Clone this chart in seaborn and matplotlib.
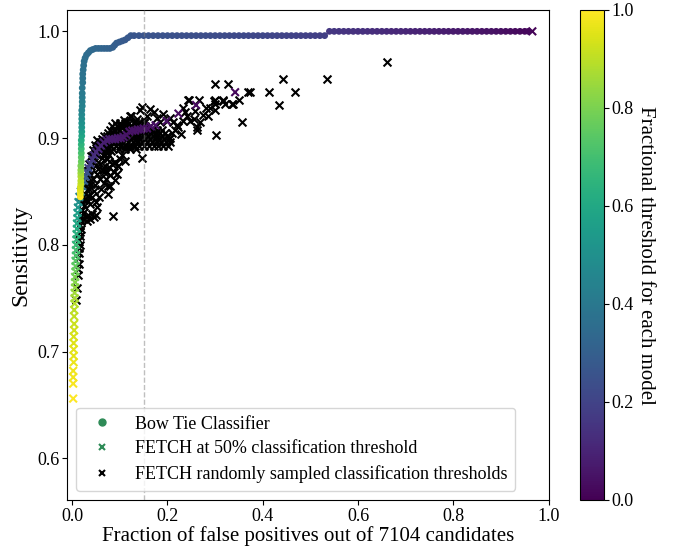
import matplotlib
matplotlib.use("Agg")
import numpy as np
import pandas as pd
import matplotlib.pyplot as plt
from matplotlib.lines import Line2D
from matplotlib.cm import ScalarMappable
from matplotlib.colors import Normalize
import seaborn as sns

# ---- Bow Tie classifier: rising part of the curve ----
bt_rise_fpr = [0.017, 0.017, 0.017, 0.017, 0.018, 0.018, 0.018, 0.018, 0.018, 0.018,
               0.019, 0.019, 0.019, 0.019, 0.019, 0.019, 0.020, 0.020, 0.020, 0.020,
               0.020, 0.020, 0.020, 0.021, 0.021, 0.021, 0.021, 0.021, 0.022, 0.022,
               0.022, 0.023, 0.024, 0.025, 0.027, 0.030, 0.034, 0.038, 0.043, 0.049,
               0.055, 0.061, 0.067, 0.073, 0.079, 0.085, 0.089, 0.093, 0.099, 0.105,
               0.111, 0.117, 0.123]
bt_rise_sens = [0.845, 0.848, 0.851, 0.854, 0.857, 0.860, 0.864, 0.867, 0.870, 0.874,
                0.878, 0.882, 0.886, 0.890, 0.894, 0.898, 0.902, 0.906, 0.910, 0.914,
                0.918, 0.922, 0.926, 0.930, 0.934, 0.938, 0.942, 0.947, 0.952, 0.956,
                0.960, 0.964, 0.968, 0.972, 0.975, 0.978, 0.980, 0.982, 0.983, 0.984,
                0.984, 0.984, 0.984, 0.984, 0.984, 0.985, 0.987, 0.989, 0.990, 0.991,
                0.992, 0.994, 0.996]
bt_rise_thr = [1.00, 0.98, 0.96, 0.94, 0.92, 0.90, 0.88, 0.86, 0.83, 0.80,
               0.77, 0.74, 0.71, 0.68, 0.65, 0.62, 0.59, 0.56, 0.53, 0.51,
               0.49, 0.47, 0.45, 0.44, 0.43, 0.42, 0.41, 0.40, 0.39, 0.385,
               0.38, 0.375, 0.37, 0.365, 0.36, 0.355, 0.35, 0.345, 0.34, 0.335,
               0.33, 0.325, 0.32, 0.315, 0.31, 0.305, 0.30, 0.295, 0.29, 0.285,
               0.28, 0.275, 0.27]

# ---- Bow Tie classifier: flat parts ----
bt_flat1_fpr = [0.13, 0.14, 0.15, 0.16, 0.17, 0.18, 0.19, 0.20, 0.21, 0.22,
                0.23, 0.24, 0.25, 0.26, 0.27, 0.28, 0.29, 0.30, 0.31, 0.32,
                0.33, 0.34, 0.35, 0.36, 0.37, 0.38, 0.39, 0.40, 0.41, 0.42,
                0.43, 0.44, 0.45, 0.46, 0.47, 0.48, 0.49, 0.50, 0.51, 0.52, 0.53]
bt_flat1_thr = [0.265, 0.263, 0.261, 0.259, 0.257, 0.255, 0.253, 0.251, 0.249, 0.247,
                0.245, 0.243, 0.241, 0.239, 0.237, 0.235, 0.233, 0.231, 0.229, 0.227,
                0.225, 0.223, 0.221, 0.219, 0.217, 0.215, 0.213, 0.211, 0.209, 0.207,
                0.205, 0.203, 0.201, 0.199, 0.197, 0.195, 0.193, 0.191, 0.189, 0.187, 0.185]
bt_flat1_sens = [0.996] * len(bt_flat1_fpr)

bt_flat2_fpr = [0.54, 0.55, 0.56, 0.57, 0.58, 0.59, 0.60, 0.61, 0.62, 0.63,
                0.64, 0.65, 0.66, 0.67, 0.68, 0.69, 0.70, 0.71, 0.72, 0.73,
                0.74, 0.75, 0.76, 0.77, 0.78, 0.79, 0.80, 0.81, 0.82, 0.83,
                0.84, 0.85, 0.86, 0.87, 0.88, 0.89, 0.90, 0.91, 0.92, 0.93,
                0.94, 0.95, 0.958]
bt_flat2_thr = [0.160, 0.157, 0.153, 0.150, 0.147, 0.143, 0.140, 0.137, 0.133, 0.130,
                0.127, 0.123, 0.120, 0.117, 0.113, 0.110, 0.107, 0.103, 0.100, 0.097,
                0.093, 0.090, 0.087, 0.083, 0.080, 0.077, 0.073, 0.070, 0.067, 0.063,
                0.060, 0.057, 0.053, 0.050, 0.047, 0.043, 0.040, 0.037, 0.033, 0.030,
                0.027, 0.023, 0.020]
bt_flat2_sens = [1.0] * len(bt_flat2_fpr)

# ---- FETCH at 50% threshold (coloured crosses) ----
f50_fpr = [0.002, 0.002, 0.002, 0.002, 0.003, 0.003, 0.003, 0.003, 0.003, 0.004,
           0.004, 0.004, 0.004, 0.005, 0.005, 0.005, 0.006, 0.006, 0.006, 0.007,
           0.007, 0.007, 0.008, 0.008, 0.008, 0.009, 0.009, 0.010, 0.010, 0.011,
           0.011, 0.012, 0.013,
           0.015, 0.018, 0.021, 0.025, 0.028, 0.031, 0.034, 0.038, 0.042, 0.046,
           0.050, 0.055, 0.060, 0.066, 0.072, 0.078, 0.084, 0.090, 0.096, 0.102,
           0.108, 0.114, 0.120, 0.126, 0.132, 0.138, 0.144, 0.150, 0.157, 0.165,
           0.175, 0.198, 0.223, 0.260, 0.342, 0.966]
f50_sens = [0.656, 0.670, 0.676, 0.682, 0.690, 0.696, 0.702, 0.708, 0.714, 0.720,
            0.726, 0.733, 0.739, 0.745, 0.750, 0.755, 0.760, 0.765, 0.770, 0.775,
            0.780, 0.785, 0.790, 0.795, 0.800, 0.805, 0.810, 0.815, 0.820, 0.825,
            0.830, 0.835, 0.840,
            0.845, 0.850, 0.855, 0.860, 0.864, 0.868, 0.872, 0.876, 0.880, 0.884,
            0.887, 0.890, 0.893, 0.896, 0.898, 0.899, 0.899, 0.899, 0.900, 0.900,
            0.901, 0.903, 0.906, 0.907, 0.907, 0.908, 0.908, 0.909, 0.909, 0.911,
            0.912, 0.916, 0.923, 0.931, 0.943, 1.000]
f50_thr = [1.00, 0.99, 0.98, 0.98, 0.97, 0.96, 0.96, 0.95, 0.94, 0.93,
           0.92, 0.91, 0.90, 0.89, 0.87, 0.86, 0.84, 0.82, 0.80, 0.78,
           0.76, 0.74, 0.72, 0.70, 0.68, 0.66, 0.64, 0.62, 0.60, 0.58,
           0.56, 0.53, 0.50,
           0.45, 0.40, 0.35, 0.30, 0.27, 0.25, 0.22, 0.19, 0.16, 0.14,
           0.12, 0.11, 0.10, 0.09, 0.08, 0.08, 0.07, 0.07, 0.07, 0.06,
           0.06, 0.06, 0.05, 0.05, 0.05, 0.05, 0.05, 0.05, 0.04, 0.04,
           0.04, 0.04, 0.03, 0.03, 0.02, 0.01]

# ---- FETCH randomly sampled thresholds (black crosses) ----
rand_edge_fpr = [0.008, 0.010, 0.012, 0.013, 0.014, 0.013, 0.015, 0.014, 0.016, 0.015,
                 0.017, 0.016, 0.018, 0.017, 0.019, 0.021, 0.018, 0.022, 0.020, 0.024,
                 0.021, 0.025, 0.023, 0.028, 0.034, 0.042, 0.050, 0.030, 0.038, 0.046,
                 0.026, 0.028, 0.030, 0.027, 0.032, 0.034, 0.031, 0.036, 0.038, 0.035,
                 0.040, 0.042, 0.039, 0.044, 0.046, 0.043, 0.048, 0.050, 0.047, 0.052,
                 0.054, 0.056, 0.053, 0.058, 0.060, 0.062, 0.064, 0.066, 0.068, 0.070,
                 0.030, 0.033, 0.036, 0.040, 0.044, 0.037, 0.041, 0.045, 0.048, 0.052,
                 0.055, 0.058, 0.062, 0.066, 0.070, 0.074, 0.078, 0.082, 0.050, 0.058,
                 0.064, 0.068, 0.072, 0.077, 0.084, 0.090, 0.096, 0.100, 0.087, 0.080,
                 0.076, 0.070, 0.066, 0.061, 0.056, 0.052, 0.049, 0.085, 0.130, 0.146,
                 0.110, 0.104, 0.095, 0.090, 0.073, 0.087, 0.097, 0.066, 0.080, 0.076]
rand_edge_sens = [0.748, 0.760, 0.772, 0.777, 0.782, 0.788, 0.792, 0.797, 0.800, 0.805,
                  0.808, 0.812, 0.815, 0.819, 0.822, 0.825, 0.827, 0.830, 0.833, 0.836,
                  0.839, 0.842, 0.845, 0.826, 0.828, 0.829, 0.828, 0.822, 0.824, 0.826,
                  0.848, 0.855, 0.851, 0.861, 0.858, 0.864, 0.869, 0.870, 0.866, 0.876,
                  0.874, 0.879, 0.883, 0.884, 0.878, 0.889, 0.886, 0.891, 0.894, 0.884,
                  0.893, 0.888, 0.898, 0.896, 0.890, 0.899, 0.894, 0.902, 0.897, 0.893,
                  0.842, 0.846, 0.852, 0.857, 0.862, 0.838, 0.845, 0.850, 0.856, 0.866,
                  0.871, 0.876, 0.881, 0.885, 0.881, 0.886, 0.884, 0.888, 0.875, 0.862,
                  0.870, 0.874, 0.868, 0.873, 0.876, 0.878, 0.874, 0.880, 0.868, 0.855,
                  0.848, 0.862, 0.858, 0.852, 0.845, 0.835, 0.840, 0.827, 0.836, 0.881,
                  0.879, 0.884, 0.866, 0.861, 0.880, 0.877, 0.874, 0.868, 0.865, 0.855]

rand_band_fpr = [0.074, 0.086, 0.098, 0.110, 0.122, 0.134,
                 0.072, 0.081, 0.091, 0.101, 0.111, 0.121, 0.131, 0.141, 0.151, 0.161, 0.171, 0.181, 0.191, 0.201,
                 0.077, 0.087, 0.097, 0.107, 0.117, 0.127, 0.137, 0.147, 0.157, 0.167, 0.177, 0.187, 0.197, 0.206,
                 0.074, 0.083, 0.093, 0.103, 0.113, 0.123, 0.133, 0.143, 0.153, 0.163, 0.173, 0.183, 0.193, 0.203,
                 0.072, 0.080, 0.089, 0.099, 0.109, 0.119, 0.129, 0.139, 0.149, 0.159, 0.169, 0.179, 0.189, 0.199,
                 0.076, 0.085, 0.095, 0.105, 0.115, 0.125, 0.135, 0.145, 0.155, 0.165, 0.175, 0.185, 0.195,
                 0.079, 0.088, 0.098, 0.108, 0.118, 0.128, 0.138, 0.148, 0.158, 0.168, 0.178, 0.188,
                 0.083, 0.093, 0.103, 0.113, 0.123, 0.133, 0.143, 0.153, 0.163,
                 0.090, 0.100, 0.110, 0.120, 0.130, 0.140, 0.150]
rand_band_sens = [0.890] * 6 + [0.893] * 14 + [0.896] * 14 + [0.899] * 14 + \
                 [0.902] * 14 + [0.905] * 13 + [0.908] * 12 + [0.911] * 9 + [0.914] * 7

rand_far_fpr = [0.122, 0.143, 0.146, 0.164, 0.157, 0.171, 0.136, 0.115, 0.132, 0.153,
                0.178, 0.185, 0.199, 0.206, 0.190, 0.123, 0.108, 0.100,
                0.212, 0.233, 0.248, 0.241, 0.228, 0.206, 0.232, 0.245, 0.267, 0.262,
                0.269, 0.280, 0.290, 0.300, 0.300, 0.300, 0.317, 0.321, 0.335, 0.351,
                0.356, 0.302, 0.368, 0.374, 0.300, 0.326, 0.262, 0.242, 0.297, 0.317,
                0.338, 0.215, 0.220, 0.255, 0.275, 0.285, 0.258, 0.236, 0.222, 0.210,
                0.414, 0.468, 0.434, 0.443, 0.534, 0.661]
rand_far_sens = [0.921, 0.926, 0.929, 0.927, 0.921, 0.924, 0.918, 0.915, 0.915, 0.916,
                 0.919, 0.915, 0.916, 0.919, 0.923, 0.921, 0.917, 0.912,
                 0.915, 0.916, 0.916, 0.921, 0.904, 0.900, 0.928, 0.936, 0.936, 0.908,
                 0.915, 0.928, 0.928, 0.926, 0.932, 0.936, 0.936, 0.932, 0.932, 0.936,
                 0.915, 0.903, 0.943, 0.943, 0.951, 0.951, 0.910, 0.936, 0.935, 0.935,
                 0.932, 0.908, 0.912, 0.918, 0.922, 0.921, 0.925, 0.924, 0.910, 0.905,
                 0.943, 0.943, 0.931, 0.955, 0.955, 0.971]

N_CANDIDATES = 7104

bowtie = pd.DataFrame({
    "fpr": bt_rise_fpr + bt_flat1_fpr + bt_flat2_fpr,
    "sens": bt_rise_sens + bt_flat1_sens + bt_flat2_sens,
    "thr": bt_rise_thr + bt_flat1_thr + bt_flat2_thr,
})
fetch50 = pd.DataFrame({"fpr": f50_fpr, "sens": f50_sens, "thr": f50_thr})
fetch_rand = pd.DataFrame({
    "fpr": rand_edge_fpr + rand_band_fpr + rand_far_fpr,
    "sens": rand_edge_sens + rand_band_sens + rand_far_sens,
})

sns.set_style("ticks")
plt.rcParams.update({
    "font.family": ["Liberation Serif", "DejaVu Serif"],
    "axes.edgecolor": "black",
    "text.color": "black",
    "axes.labelcolor": "black",
    "xtick.color": "black",
    "ytick.color": "black",
})

fig = plt.figure(figsize=(6.75, 5.47), dpi=100)
ax = fig.add_axes([67 / 675, 47 / 547, 482 / 675, 490 / 547])
cax = fig.add_axes([580 / 675, 47 / 547, 24 / 675, 490 / 547])

sns.scatterplot(data=fetch_rand, x="fpr", y="sens", marker="x", color="black",
                s=32, linewidth=1.5, legend=False, ax=ax, zorder=2)
sns.scatterplot(data=fetch50, x="fpr", y="sens", hue="thr", palette="viridis",
                hue_norm=(0, 1), marker="x", s=30, linewidth=1.5, legend=False,
                ax=ax, zorder=3)
sns.scatterplot(data=bowtie, x="fpr", y="sens", hue="thr", palette="viridis",
                hue_norm=(0, 1), marker="o", s=24, linewidth=0, legend=False,
                ax=ax, zorder=4)

ax.axvline(0.15, color="grey", linestyle="--", linewidth=1, alpha=0.5, zorder=5)

ax.set_xlim(-0.011, 1.001)
ax.set_ylim(0.561, 1.02)
ax.set_xticks([0.0, 0.2, 0.4, 0.6, 0.8, 1.0])
ax.set_yticks([0.6, 0.7, 0.8, 0.9, 1.0])
ax.tick_params(labelsize=13, pad=2)
ax.set_xlabel(f"Fraction of false positives out of {N_CANDIDATES} candidates",
              fontsize=15, labelpad=1)
ax.set_ylabel("Sensitivity", fontsize=17, labelpad=4)

handles = [
    Line2D([], [], marker="o", ls="", color="#2e8b57", markersize=5,
           label="Bow Tie Classifier"),
    Line2D([], [], marker="x", ls="", color="#2e8b57", markersize=4,
           markeredgewidth=1.5, label="FETCH at 50% classification threshold"),
    Line2D([], [], marker="x", ls="", color="black", markersize=4,
           markeredgewidth=1.5, label="FETCH randomly sampled classification thresholds"),
]
ax.legend(handles=handles, loc="lower left", fontsize=13, frameon=True,
          borderpad=0.45, labelspacing=0.42, handletextpad=0.8)

sm = ScalarMappable(norm=Normalize(0, 1), cmap="viridis")
cbar = fig.colorbar(sm, cax=cax)
cbar.set_ticks([0.0, 0.2, 0.4, 0.6, 0.8, 1.0])
cbar.ax.tick_params(labelsize=13, pad=2)
cbar.set_label("Fractional threshold for each model", rotation=270,
               fontsize=15, labelpad=15)

fig.savefig("out.png", dpi=100)
